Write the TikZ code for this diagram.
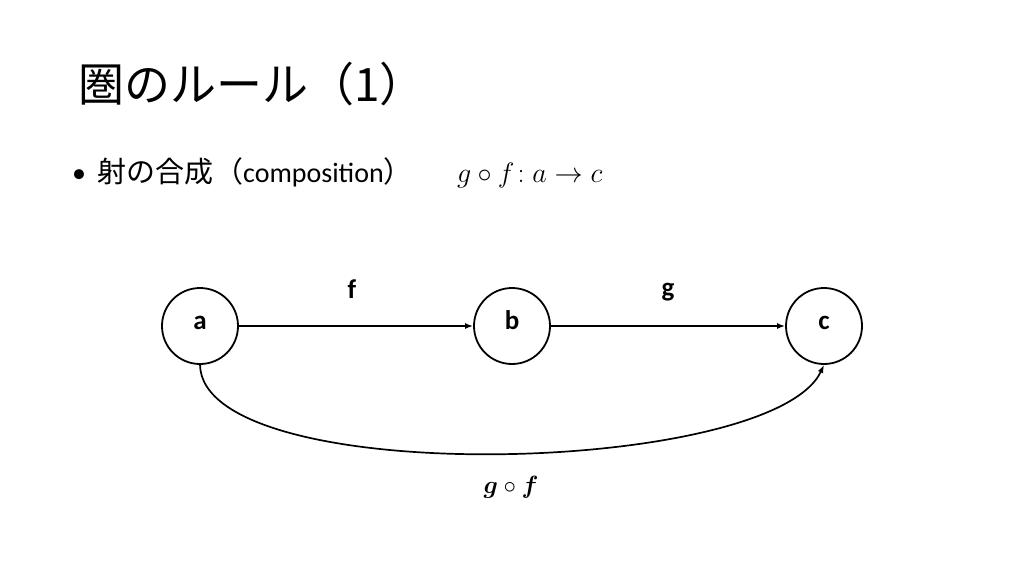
\documentclass[tikz,border=0pt]{standalone}
\usepackage{amsmath,bm}
\usepackage{graphicx}
\usepackage{fontspec}
\setmainfont{Carlito}
\newfontfamily\jpfont{Noto Sans CJK JP}
\newfontfamily\latinfont{Carlito}
\usetikzlibrary{arrows.meta}
\tikzset{
  obj/.style={circle, draw=black, line width=1.8pt, minimum size=76pt, inner sep=0pt,
    text height=0.65em, text depth=0pt,
    font={\latinfont\bfseries\fontsize{27}{30}\selectfont}},
  arr/.style={line width=1.7pt, -{Latex[length=8pt,width=6pt]}},
  lbl/.style={font={\latinfont\bfseries\fontsize{27}{30}\selectfont}},
  mathbig/.style={font={\Huge}},
  mathlbl/.style={font={\Huge}},
}
\begin{document}
\begin{tikzpicture}[x=1pt,y=-1pt]
\useasboundingbox (0,0) rectangle (1024,576);
\node[anchor=west, inner sep=0pt, font={\jpfont\fontsize{46}{50}\selectfont}] (title) at (78,84) {圏のルール（1）};
\node[anchor=west, inner sep=0pt, font={\fontsize{28}{32}\selectfont}] (bullet) at (72,172) {•\hspace{11pt}{\jpfont\fontsize{29}{32}\selectfont 射の合成\hspace{1pt}（}composition{\jpfont\fontsize{29}{32}\selectfont ）}};
\node[anchor=base west, inner sep=0pt, mathbig] (formula) at (457,182) {\scalebox{1.13}{$g\circ f\!: a\rightarrow c$}};
\node[obj] (a) at (200,326) {a};
\node[obj] (b) at (512,326) {b};
\node[obj] (c) at (824,326) {c};
\draw[arr] (a) -- (b);
\draw[arr] (b) -- (c);
\node[lbl] (f) at (352,289) {f};
\node[lbl] (g) at (668,292) {g};
\draw[arr] (a.south) .. controls (203,490) and (772,476) .. (c.south);
\node[mathlbl] (gf) at (511,487) {$\bm{g}\circ\bm{f}$};
\end{tikzpicture}
\end{document}
